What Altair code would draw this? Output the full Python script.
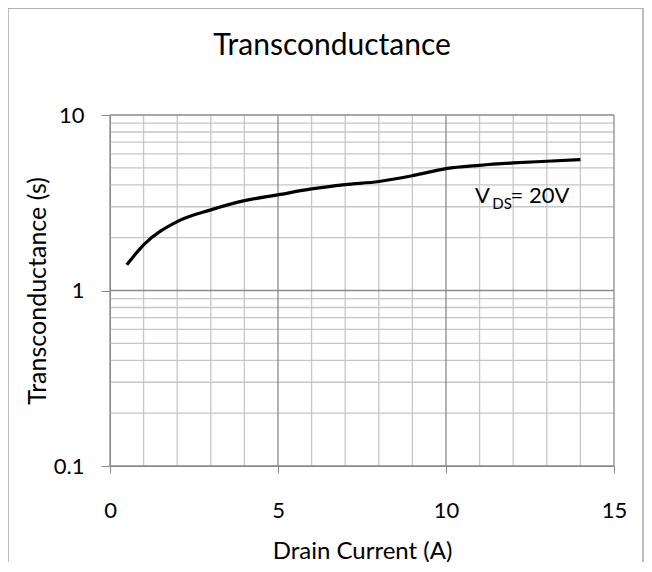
import altair as alt
import pandas as pd

# Curve data
drain_current = [0.5, 1.0, 2.0, 3.0, 4.0, 5.0, 6.0, 7.0, 8.0, 9.0, 10.0, 11.0, 12.0, 13.0, 14.0]
transconductance = [1.40, 1.82, 2.47, 2.88, 3.25, 3.51, 3.79, 4.01, 4.18, 4.51, 4.95, 5.17, 5.33, 5.45, 5.57]

# Gridline values
x_major = [0, 5, 10, 15]
x_minor = [1, 2, 3, 4, 6, 7, 8, 9, 11, 12, 13, 14]
y_major = [0.1, 1, 10]
y_minor = [0.2, 0.3, 0.4, 0.5, 0.6, 0.7, 0.8, 0.9, 2, 3, 4, 5, 6, 7, 8, 9]

chart_title = ["Transconductance"]

FONT = "Lato"
MAJOR = "#8a8a8a"
MINOR = "#c6c6c6"

curve = pd.DataFrame({"I": drain_current, "g": transconductance})

xs = alt.Scale(domain=[0, 15], nice=False, zero=False)
ys = alt.Scale(type="log", domain=[0.1, 10], nice=False)

base_x = alt.X("I:Q", scale=xs,
               axis=alt.Axis(values=x_major, grid=False, title="Drain Current (A)",
                             labelFlush=False,
                             domainColor=MAJOR, tickColor=MAJOR, tickSize=7,
                             labelPadding=27, labelFontSize=22, labelFont=FONT,
                             labelColor="#000", titleFont=FONT, titleFontSize=24,
                             titleFontWeight="normal", titleColor="#000", titlePadding=18))
base_y = alt.Y("g:Q", scale=ys,
               axis=alt.Axis(values=y_major, grid=False, title="Transconductance (s)",
                             labelFlush=False,
                             labelExpr="datum.value >= 1 ? format(datum.value, 'd') : format(datum.value, '.1f')",
                             domainColor=MAJOR, tickColor=MAJOR, tickSize=9,
                             labelPadding=17, labelFontSize=22, labelFont=FONT,
                             labelColor="#000", titleFont=FONT, titleFontSize=25,
                             titleFontWeight="normal", titleColor="#000", titlePadding=3))

vminor = alt.Chart(pd.DataFrame({"v": x_minor})).mark_rule(color=MINOR, strokeWidth=1.3).encode(
    x=alt.X("v:Q", scale=xs))
hminor = alt.Chart(pd.DataFrame({"v": y_minor})).mark_rule(color=MINOR, strokeWidth=1.3).encode(
    y=alt.Y("v:Q", scale=ys))
vmajor = alt.Chart(pd.DataFrame({"v": x_major})).mark_rule(color=MAJOR, strokeWidth=1.3).encode(
    x=alt.X("v:Q", scale=xs))
hmajor = alt.Chart(pd.DataFrame({"v": y_major})).mark_rule(color=MAJOR, strokeWidth=1.3).encode(
    y=alt.Y("v:Q", scale=ys))

line = alt.Chart(curve).mark_line(color="#000", strokeWidth=3.2, interpolate="monotone").encode(
    x=base_x, y=base_y)

# Annotation "V_DS= 20V"
ann_text = ["V", "DS", "= 20V"]
ann_x = [10.86, 11.38, 11.92]
ann_y = [3.16, 2.90, 3.16]
ann_size = [22, 15, 22]
ann = pd.DataFrame({"t": ann_text, "x": ann_x, "y": ann_y, "s": ann_size})
label = alt.Chart(ann).mark_text(font=FONT, align="left", baseline="alphabetic", color="#000").encode(
    x=alt.X("x:Q", scale=xs), y=alt.Y("y:Q", scale=ys), text="t:N",
    size=alt.Size("s:Q", scale=None, legend=None))

title = alt.Chart(pd.DataFrame({"t": chart_title})).mark_text(
    font=FONT, fontSize=30, align="center", baseline="alphabetic", color="#000").encode(
    text="t:N", x=alt.value(222), y=alt.value(-60))

frame = alt.Chart(pd.DataFrame({"a": [0]})).mark_rect(fill=None, stroke="#9a9a9a", strokeWidth=1.3).encode(
    x=alt.value(-102), x2=alt.value(533), y=alt.value(-107), y2=alt.value(480))

chart = alt.layer(hminor, vminor, hmajor, vmajor, line, label, title, frame).properties(
    width=504, height=351,
    padding={"left": 102, "top": 107, "right": 30, "bottom": 96},
    autosize=alt.AutoSizeParams(type="none"),
).configure_view(stroke=None)

chart.save("out.html", embed_options={"renderer": "svg", "actions": False})
